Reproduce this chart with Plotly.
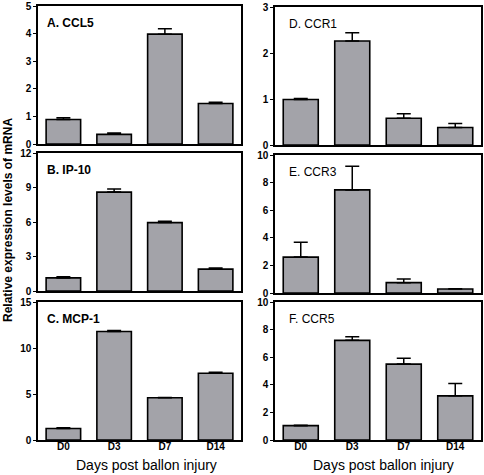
import plotly.graph_objects as go

days = ["D0", "D3", "D7", "D14"]

ccl5 = [0.89, 0.35, 3.98, 1.47]
ccl5_err = [0.06, 0.05, 0.2, 0.04]
ip10 = [1.14, 8.6, 5.95, 1.9]
ip10_err = [0.09, 0.27, 0.12, 0.09]
mcp1 = [1.25, 11.8, 4.6, 7.25]
mcp1_err = [0.08, 0.1, 0.03, 0.12]
ccr1 = [0.99, 2.26, 0.58, 0.38]
ccr1_err = [0.02, 0.18, 0.1, 0.09]
ccr3 = [2.6, 7.47, 0.75, 0.29]
ccr3_err = [1.08, 1.72, 0.27, 0.02]
ccr5 = [1.04, 7.22, 5.5, 3.2]
ccr5_err = [0.03, 0.27, 0.42, 0.9]

panels = [
    ("A. CCL5", ccl5, ccl5_err, [0, 5], 1, True),
    ("B. IP-10", ip10, ip10_err, [0, 12], 3, True),
    ("C. MCP-1", mcp1, mcp1_err, [0, 15], 5, True),
    ("D. CCR1", ccr1, ccr1_err, [0, 3], 1, False),
    ("E. CCR3", ccr3, ccr3_err, [0, 10], 2, False),
    ("F. CCR5", ccr5, ccr5_err, [0, 10], 2, False),
]

W, H = 484, 475
colx = [(38, 241), (275, 481)]
title_off = [7, 12]
rows_left = [(6, 144), (153, 291), (302, 440)]
rows_right = [(7, 145), (155, 293), (302, 440)]

fig = go.Figure()
font = "Liberation Sans, Arial, sans-serif"

for i, (title, vals, errs, yr, dt, bold) in enumerate(panels):
    col = 0 if i < 3 else 1
    r = i % 3
    x0, x1 = colx[col]
    y0, y1 = (rows_left if col == 0 else rows_right)[r]
    n = i + 1
    xa = "xaxis" if n == 1 else f"xaxis{n}"
    ya = "yaxis" if n == 1 else f"yaxis{n}"
    xref = "x" if n == 1 else f"x{n}"
    yref = "y" if n == 1 else f"y{n}"
    fig.add_trace(go.Bar(
        x=days, y=vals, xaxis=xref, yaxis=yref,
        marker=dict(color="#a3a3a9", line=dict(color="black", width=1.6)),
        error_y=dict(type="data", symmetric=False, array=errs,
                     arrayminus=[0] * len(errs), color="black",
                     thickness=1.5, width=7),
        showlegend=False,
    ))
    fig.layout[xa] = dict(
        domain=[x0 / W, x1 / W], anchor=yref, range=[-0.5, 3.5],
        showline=True, linecolor="black", linewidth=1.5, mirror=True,
        ticks="", showticklabels=(r == 2), ticklabelstandoff=-4,
        tickfont=dict(family=font, size=10, color="black", weight="bold"),
        showgrid=False, zeroline=False, fixedrange=True,
    )
    fig.layout[ya] = dict(
        domain=[1 - y1 / H, 1 - y0 / H], anchor=xref, range=yr, dtick=dt,
        showline=True, linecolor="black", linewidth=1.5, mirror=True,
        ticks="outside", ticklen=3, tickwidth=1.2, tickcolor="black",
        tickfont=dict(family=font, size=10, color="black", weight="bold"),
        showgrid=False, zeroline=False,
    )
    fig.add_annotation(
        x=(x0 + title_off[col]) / W, y=1 - (y0 + 17) / H,
        xref="paper", yref="paper",
        text=(f"<b>{title}</b>" if bold else title), showarrow=False,
        xanchor="left", yanchor="middle",
        font=dict(family=font, size=12, color="black"),
    )

fig.add_annotation(
    x=8 / W, y=1 - 220 / H, xref="paper", yref="paper",
    text="<b>Relative expression levels of mRNA</b>", textangle=-90,
    showarrow=False, xanchor="center", yanchor="middle",
    font=dict(family=font, size=12, color="black"),
)
for cx in (146, 383):
    fig.add_annotation(
        x=cx / W, y=1 - 465 / H, xref="paper", yref="paper",
        text="Days post ballon injury", showarrow=False,
        xanchor="center", yanchor="middle",
        font=dict(family=font, size=14, color="black"),
    )

fig.update_layout(
    width=W, height=H,
    margin=dict(l=0, r=0, t=0, b=0, pad=0, autoexpand=False),
    paper_bgcolor="white", plot_bgcolor="white", bargap=0.32,
)
fig.write_html(
    "out.html",
    config={"displayModeBar": False},
    post_script="document.body.style.margin='0';document.body.style.overflow='hidden';",
)
